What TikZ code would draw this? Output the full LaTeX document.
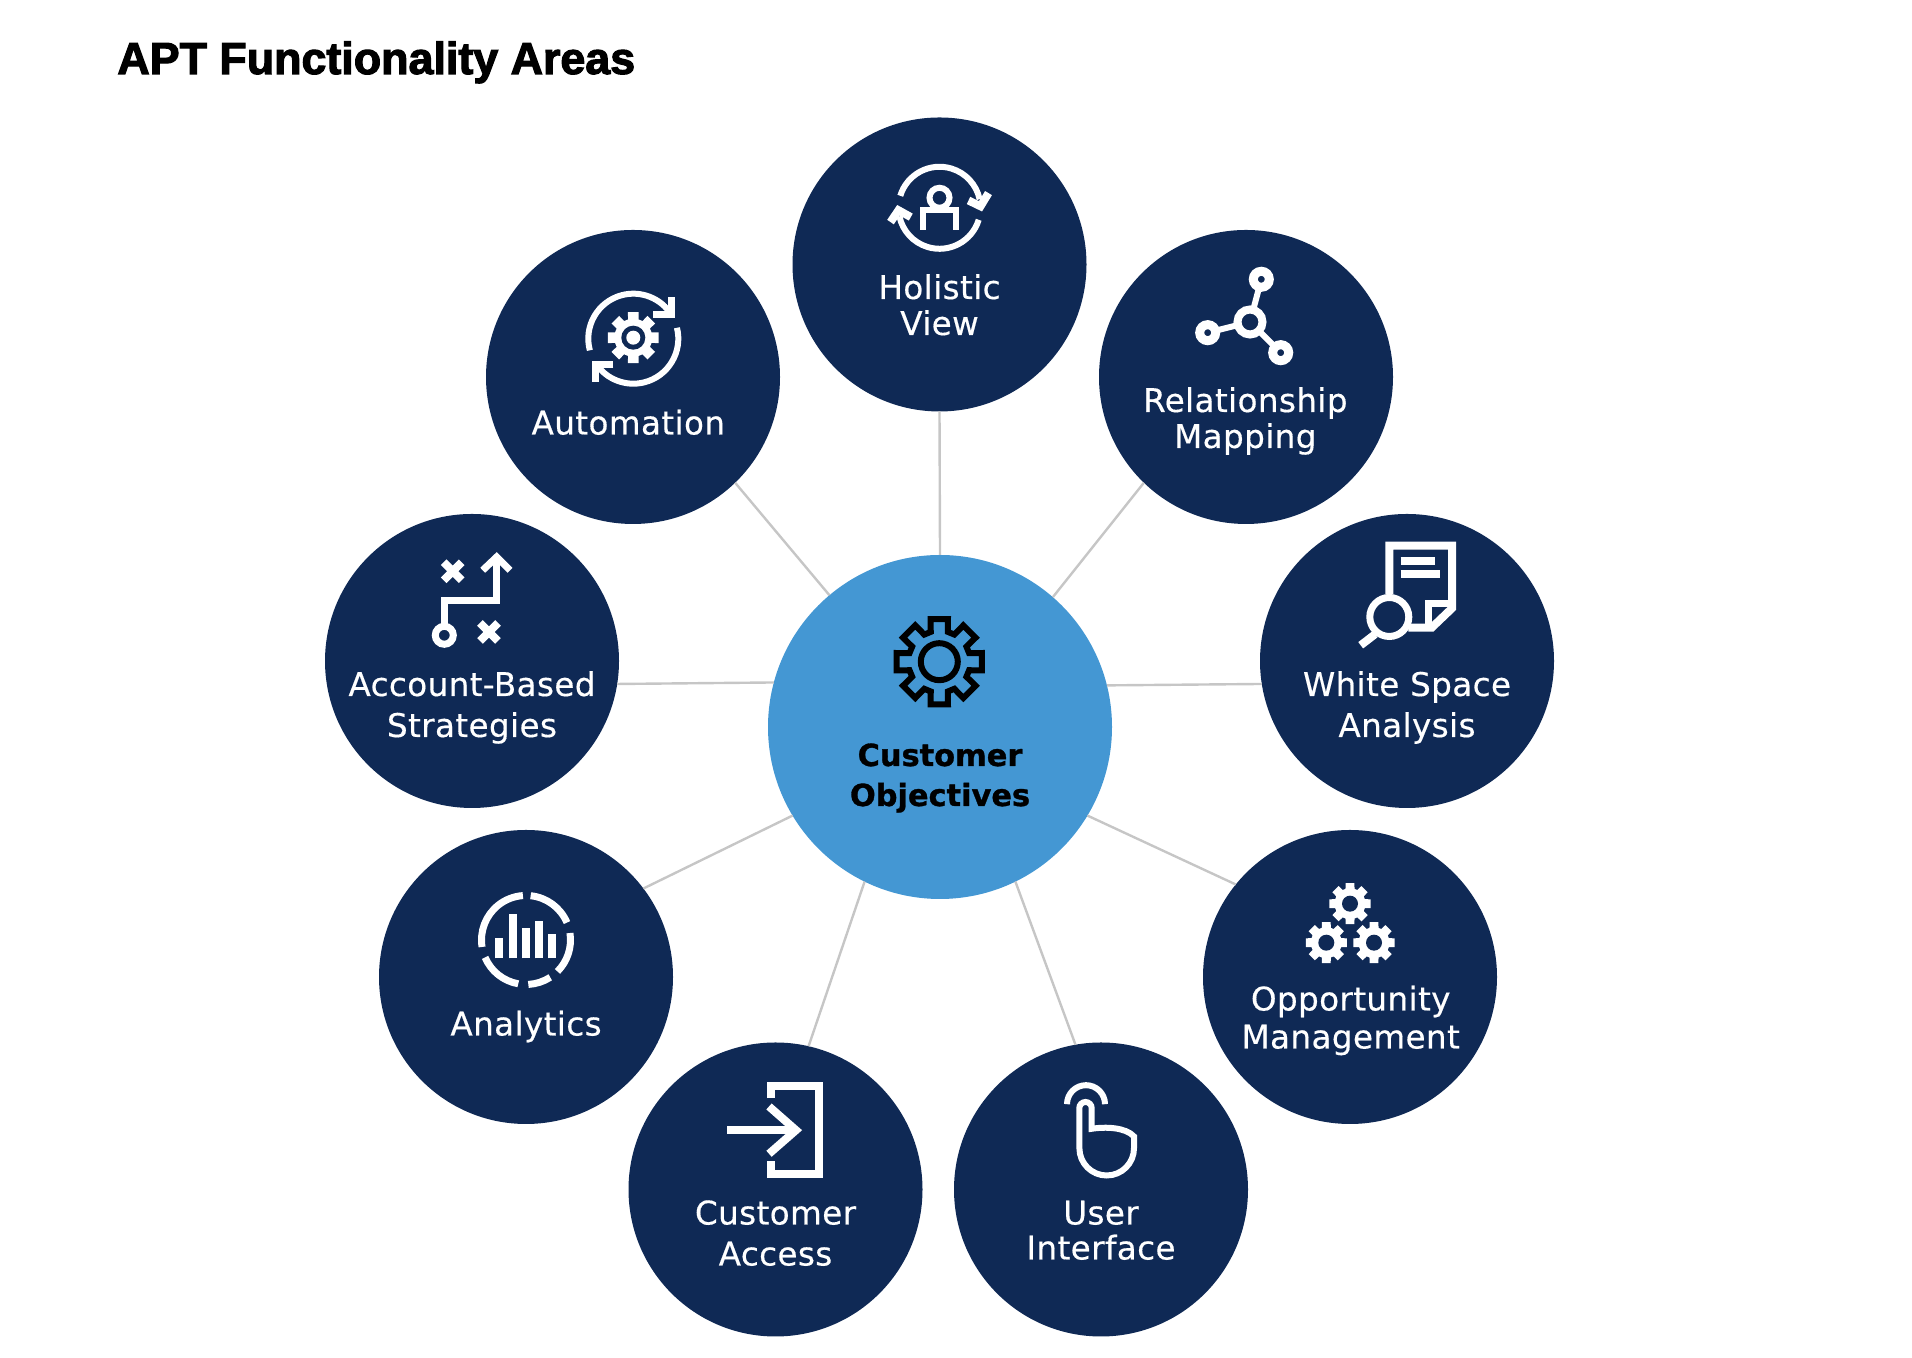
\documentclass[tikz,border=0pt]{standalone}
\usepackage{fontspec}
\setmainfont{DejaVu Sans}[FakeBold=0.4,LetterSpace=1.2]
\newfontfamily\heavyfont{Liberation Sans}[BoldFeatures={FakeBold=2.5}]
\newfontfamily\hubfont{DejaVu Sans}[BoldFeatures={FakeBold=1}]
\definecolor{navy}{HTML}{0F2955}
\definecolor{skyblue}{HTML}{4497D3}
\definecolor{spokegray}{HTML}{C6C6C6}
\tikzset{
  sat/.style={circle,fill=navy,minimum size=147pt,inner sep=0pt,outer sep=0pt},
  hubnode/.style={circle,fill=skyblue,minimum size=172pt,inner sep=0pt,outer sep=0pt},
  lab/.style={text=white,inner sep=0pt,align=center,anchor=base,font=\fontsize{16.3}{#1}\selectfont},
  hublab/.style={text=black,inner sep=0pt,align=center,anchor=base,font=\fontsize{15.2}{20}\selectfont\hubfont\bfseries},
  spoke/.style={draw=spokegray,line width=1.2pt},
  ico/.style={draw=white,line width=3pt}
}
% gear: style, centre, outer radius, root radius, tip half angle, root half angle
\newcommand{\cog}[6]{
  \begin{scope}[shift={#2}]
    \path[#1] (-#6:#4) \foreach \t in {0,45,...,315} {-- (\t-#6:#4) -- (\t-#5:#3) -- (\t+#5:#3) -- (\t+#6:#4)} -- cycle;
  \end{scope}
}
\begin{document}
\begin{tikzpicture}[x=.5pt,y=.5pt]
\useasboundingbox (0,0) rectangle (1912,1358);

\node[anchor=base west,inner sep=0pt,font=\fontsize{22.4}{27}\selectfont\heavyfont\bfseries] (title) at (117,1284) {APT Functionality Areas};

\node[hubnode] (hub) at (940,631) {};
\node[hublab] (hublabel) at (940,552) {Customer\\Objectives};

\foreach \name/\x/\y/\dx/\dy/\lh/\txt in {
  holistic/939.5/1093.5/0/70.5/18/{Holistic\\View},
  automation/633/981/-4.7/57.5/18/{Automation},
  relationship/1246/981/-0.7/71/18/{Relationship\\Mapping},
  account/472/697/0/76/20.5/{Account-Based\\Strategies},
  whitespace/1407/697/0/76/20.5/{White Space\\Analysis},
  analytics/526/381/0/58.5/18/{Analytics},
  opportunity/1350/381/0.7/71.5/19/{Opportunity\\Management},
  access/775.5/168.5/0/76/20.5/{Customer\\Access},
  user/1101/168.5/0/70/17.5/{User\\Interface}}
{
  \node[sat] (\name) at (\x,\y) {};
  \node[lab=\lh] (\name label) at (\x+\dx,\y-\dy) {\txt};
}

\foreach \name/\a/\b in {holistic/90/270, automation/130.7/-46.7, relationship/49.6/226.4,
  account/165.87/-9.4, whitespace/14.13/189.4, analytics/211.7/37.6,
  opportunity/-31.6/141.8, access/244.2/77.4, user/-64.5/100.9}
{
  \draw[spoke] (hub.\a)--(\name.\b);
}

% hub icon
\cog{draw=black,line width=3pt}{(939.3,696.3)}{43.5}{31}{11.5}{16}
\draw[black,line width=3pt] (939.3,696.3) circle (18.5);

% holistic view
\begin{scope}[shift={(holistic.center)},shift={(0,56.7)}]
  \draw[ico] (163:41) arc[start angle=163,end angle=12,radius=41];
  \draw[ico,line width=4pt] (29,7.3)--(41,1.5)--(49,14.7);
  \draw[ico] (-17:41) arc[start angle=-17,end angle=-168,radius=41];
  \draw[ico,line width=4pt] (-49,-14.3)--(-41,-2.5)--(-28.7,-9.3);
  \draw[ico] (0,10) circle (10);
  \draw[ico] (-16.7,-22)--(-16.7,-2)--(16.7,-2)--(16.7,-22);
\end{scope}

% automation
\begin{scope}[shift={(automation.center)},shift={(0.3,38.3)}]
  \draw[ico] (195:45) arc[start angle=195,end angle=32,radius=45];
  \draw[ico,line width=3.5pt] (20,23.7)--(38,23.7)--(38,42);
  \draw[ico] (14:45) arc[start angle=14,end angle=-146,radius=45];
  \draw[ico,line width=3.5pt] (-20,-25.7)--(-38,-25.7)--(-38,-43);
\end{scope}
\cog{fill=white}{(633.3,1020.3)}{26}{19}{12}{16}
\fill[navy] (633.3,1020.3) circle (12);
\fill[white] (633.3,1020.3) circle (7);

% relationship mapping
\begin{scope}[shift={(relationship.center)}]
  \draw[ico,line width=3pt] (4,55)--(15.3,97.7) (4,55)--(-38.3,44.3) (4,55)--(34.7,24.3);
  \draw[ico,line width=4pt,fill=navy] (4,55) circle (12.5);
  \draw[ico,line width=4.5pt,fill=navy] (15.3,97.7) circle (8);
  \draw[ico,line width=4.5pt,fill=navy] (-38.3,44.3) circle (8);
  \draw[ico,line width=4.5pt,fill=navy] (34.7,24.3) circle (8);
\end{scope}

% account-based strategies
\begin{scope}[shift={(account.center)}]
  \draw[ico,line width=4pt] (-28.3,80.7)--(-10.3,98.7) (-28.3,98.7)--(-10.3,80.7);
  \draw[ico,line width=4pt] (8,20)--(26,38) (8,38)--(26,20);
  \draw[ico,line width=3.5pt] (-27.7,25.7) circle (9);
  \draw[ico,line width=3.5pt] (-27.7,35)--(-27.7,60)--(24.7,60)--(24.7,103);
  \draw[ico,line width=3.5pt] (10.7,90.7)--(24.7,104)--(38,90.7);
\end{scope}

% white space analysis
\begin{scope}[shift={(whitespace.center)}]
  \draw[ico,line width=4pt] (-17.7,66.7)--(-17.7,115.3)--(45,115.3)--(45,52.7)--(24.7,33.3)--(1.3,33.3);
  \draw[ico,line width=3.5pt] (21.3,33.3)--(21.3,57.3)--(45,57.3);
  \draw[ico,line width=4pt] (-6.3,100)--(27.7,100) (-6.3,86.7)--(33.3,86.7);
  \draw[ico,line width=3.5pt] (-17.7,44) circle (19.5);
  \draw[ico,line width=4pt] (-32,26.7)--(-46.3,15.7);
\end{scope}

% analytics
\begin{scope}[shift={(analytics.center)},shift={(0,37)}]
  \foreach \s/\e in {84/23, 9/-45, -57/-87, -100/-157, -171/-266}
  {
    \draw[ico,line width=3.5pt] (\s:44.5) arc[start angle=\s,end angle=\e,radius=44.5];
  }
  \foreach \x/\h in {-26.7/2.3, -13.3/26.3, 0/12.3, 13.3/19, 26/5.7}
  {
    \draw[ico,line width=4pt] (\x,-18.3)--(\x,\h);
  }
\end{scope}

% opportunity management
\foreach \x/\y in {1350/454.3, 1326.3/415.3, 1374/415.3}
{
  \cog{fill=white}{(\x,\y)}{21}{15.5}{12}{17}
  \fill[navy] (\x,\y) circle (8);
}

% customer access
\begin{scope}[shift={(access.center)}]
  \draw[ico,line width=4pt] (-4.5,91.3)--(-4.5,103.7)--(43.8,103.7)--(43.8,15.7)--(-4.5,15.7)--(-4.5,28);
  \draw[ico,line width=4pt] (-48.2,59.3)--(20.5,59.3);
  \draw[ico,line width=4pt] (-6.5,83)--(20.5,59.3)--(-6.5,35.7);
\end{scope}

% user interface
\begin{scope}[shift={(user.center)}]
  \draw[ico] (-34,85.3) arc[start angle=180,end angle=0,radius=19];
  \draw[ico] (33,41.3) arc[start angle=0,end angle=-180,radius=27.3]
    --(-21.7,81.3) arc[start angle=180,end angle=0,radius=6.2]
    --(-9.3,60.7) .. controls (5,63) and (25,62) .. (33,53) -- cycle;
\end{scope}
\end{tikzpicture}
\end{document}
